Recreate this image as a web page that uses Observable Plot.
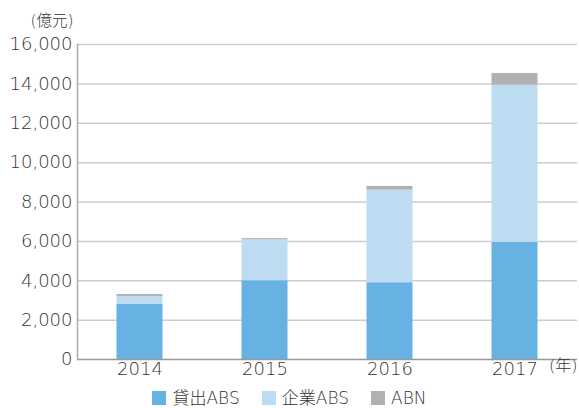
<!DOCTYPE html>
<html><head><meta charset="utf-8">
<script src="https://cdn.jsdelivr.net/npm/d3@7"></script>
<script src="https://cdn.jsdelivr.net/npm/@observablehq/plot@0.6"></script>
<style>
body{margin:0;background:#fff;font-family:"DejaVu Sans","Noto Sans CJK JP",sans-serif;}
#wrap{width:579px;height:408px;position:relative;}
#legend{position:absolute;left:0;top:389px;height:18px;line-height:18px;width:579px;display:flex;justify-content:center;align-items:center;font-size:17px;color:#333;font-weight:300;}
.item{display:flex;align-items:center;margin:0 11px;}
.sw{width:14px;height:14px;margin-right:6px;}
</style>
</head><body><div id="wrap"><div id="chart"></div><div id="legend"></div></div>
<script>
const years = ["2014", "2015", "2016", "2017"];
const series = ["貸出ABS", "企業ABS", "ABN"];
const loanABS = [2800, 4000, 3900, 5950];
const corpABS = [400, 2080, 4700, 7980];
const abn = [100, 60, 190, 600];
const yTicks = [0, 2000, 4000, 6000, 8000, 10000, 12000, 14000, 16000];
const colors = ["#66b3e3", "#bddcf2", "#b1b1b5"];
const unitLabel = "(億元)";
const yearLabel = "(年)";

const valuesBySeries = [loanABS, corpABS, abn];
const rows = [];
years.forEach((yr, i) => {
  series.forEach((s, j) => rows.push({year: yr, series: s, value: valuesBySeries[j][i]}));
});

const chart = Plot.plot({
  width: 579,
  height: 382,
  marginTop: 44,
  marginLeft: 77,
  marginRight: 2,
  marginBottom: 23,
  style: {fontFamily: '"DejaVu Sans","Noto Sans CJK JP",sans-serif', color: "#333", background: "#fff"},
  x: {type: "band", domain: years, padding: 0},
  y: {domain: [0, 16000]},
  color: {domain: series, range: colors},
  marks: [
    Plot.ruleY(yTicks.slice(1), {stroke: "#cccccc", strokeWidth: 1.5}),
    Plot.barY(rows, {x: "year", y: "value", fill: "series", insetLeft: 39.5, insetRight: 39.5}),
    Plot.ruleY([0], {stroke: "#999", strokeWidth: 1.5}),
    Plot.frame({anchor: "left", stroke: "#aaa", strokeWidth: 1.5}),
    Plot.axisY(yTicks, {tickSize: 0, tickPadding: 5, fontSize: 18, fontWeight: 300, fill: "#333", tickFormat: d3.format(","), label: null}),
    Plot.axisX({tickSize: 0, tickPadding: 3, fontSize: 18, fontWeight: 300, fill: "#333", label: null}),
    Plot.text([yearLabel], {frameAnchor: "bottom-right", dy: 11, textAnchor: "end", fontSize: 16, fontWeight: 300, fill: "#333", letterSpacing: 1.5}),
    Plot.text([unitLabel], {frameAnchor: "top-left", dx: -4, dy: -30, textAnchor: "end", fontSize: 15.5, fontWeight: 300, fill: "#333", letterSpacing: 1.5})
  ]
});
document.getElementById("chart").appendChild(chart);

const legend = document.getElementById("legend");
series.forEach((s, j) => {
  const it = document.createElement("div");
  it.className = "item";
  const sw = document.createElement("div");
  sw.className = "sw";
  sw.style.background = colors[j];
  const t = document.createElement("span");
  t.textContent = s;
  it.appendChild(sw); it.appendChild(t);
  legend.appendChild(it);
});
</script>
</body></html>
